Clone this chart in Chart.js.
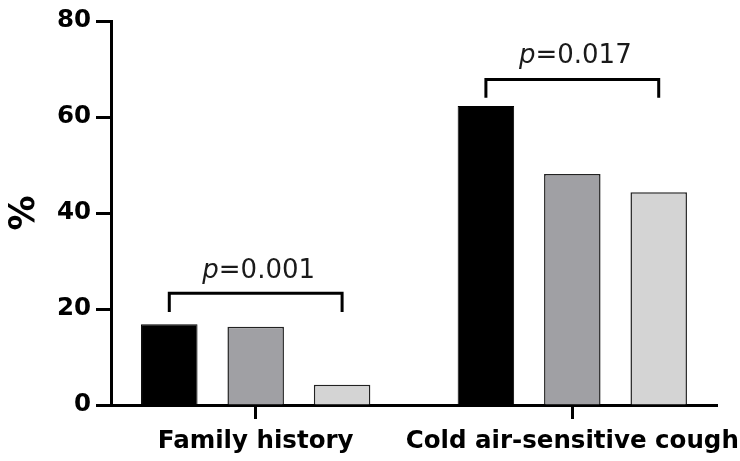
<!DOCTYPE html>
<html><head><meta charset="utf-8">
<script src="https://cdn.jsdelivr.net/npm/chart.js@4"></script>
<style>html,body{margin:0;padding:0;background:#fff}canvas{display:block}</style>
</head><body>
<canvas id="c" width="740" height="461"></canvas>
<script>
const categories = ['Family history', 'Cold air-sensitive cough'];
const groupBlack = [16.8, 62.3];
const groupGray = [16.3, 48.1];
const groupLight = [4.2, 44.3];
const yTicks = [0, 20, 40, 60, 80];
const pValues = ['0.001', '0.017'];
const bracketTop = [23.3, 67.8];
const bracketTip = [19.4, 64.0];
const pLabelY = [26.5, 71.2];

const FONT = '"DejaVu Sans", sans-serif';

const bracketPlugin = {
  id: 'brackets',
  afterDatasetsDraw(chart) {
    const ctx = chart.ctx, y = chart.scales.y;
    const m0 = chart.getDatasetMeta(0), m2 = chart.getDatasetMeta(2);
    categories.forEach((c, i) => {
      const x1 = m0.data[i].x, x2 = m2.data[i].x;
      const yt = y.getPixelForValue(bracketTop[i]), yb = y.getPixelForValue(bracketTip[i]);
      ctx.save();
      ctx.strokeStyle = '#000'; ctx.lineWidth = 3; ctx.lineCap = 'butt'; ctx.lineJoin = 'miter';
      ctx.beginPath(); ctx.moveTo(x1, yb); ctx.lineTo(x1, yt); ctx.lineTo(x2, yt); ctx.lineTo(x2, yb); ctx.stroke();
      const fi = 'italic 26px ' + FONT, fr = '26px ' + FONT;
      ctx.font = fi; const wp = ctx.measureText('p').width;
      ctx.font = fr; const wr = ctx.measureText('=' + pValues[i]).width;
      const cx = (x1 + x2) / 2 + 3, start = cx - (wp + wr) / 2, base = y.getPixelForValue(pLabelY[i]);
      ctx.fillStyle = '#1a1a1a'; ctx.textBaseline = 'alphabetic'; ctx.textAlign = 'left';
      ctx.font = fi; ctx.fillText('p', start, base);
      ctx.font = fr; ctx.fillText('=' + pValues[i], start + wp, base);
      ctx.restore();
    });
  }
};

const toPts = arr => arr.map((v, i) => ({ x: i, y: v }));

new Chart(document.getElementById('c'), {
  type: 'bar',
  data: {
    datasets: [
      { data: toPts(groupBlack), backgroundColor: '#000000', borderColor: '#000000', borderWidth: 1 },
      { data: toPts(groupGray), backgroundColor: '#a0a0a4', borderColor: '#222222', borderWidth: 1.5 },
      { data: toPts(groupLight), backgroundColor: '#d4d4d4', borderColor: '#222222', borderWidth: 1.5 }
    ]
  },
  options: {
    responsive: false,
    animation: false,
    layout: { padding: { top: 21, right: 23, left: 0, bottom: 0 } },
    plugins: { legend: { display: false }, tooltip: { enabled: false } },
    datasets: { bar: { categoryPercentage: 0.8187, barPercentage: 0.654, grouped: true } },
    scales: {
      x: {
        type: 'linear', min: -0.457, max: 1.457, offset: false,
        afterBuildTicks: s => { s.ticks = categories.map((c, i) => ({ value: i })); },
        afterFit: s => { s.height = 56; s.paddingLeft = 0; s.paddingRight = 0; },
        ticks: { callback: v => categories[v], autoSkip: false, maxRotation: 0, minRotation: 0, padding: 8,
          color: '#000', font: { family: FONT, size: 24.5, weight: 'bold' } },
        grid: { offset: false, drawOnChartArea: false, drawTicks: true, tickLength: 14, tickWidth: 3, tickColor: '#000' },
        border: { display: true, color: '#000', width: 3 }
      },
      y: {
        min: 0, max: 80,
        afterBuildTicks: s => { s.ticks = yTicks.map(v => ({ value: v })); },
        afterFit: s => { s.width = 111; },
        ticks: { padding: 5, color: '#000', font: { family: FONT, size: 24.5, weight: 'bold' } },
        grid: { drawOnChartArea: false, drawTicks: true, tickLength: 15, tickWidth: 3, tickColor: '#000' },
        border: { display: true, color: '#000', width: 3 },
        title: { display: true, text: '%', color: '#000', font: { family: FONT, size: 35, weight: 'bold' }, padding: { top: 4, bottom: 0 } }
      }
    }
  },
  plugins: [bracketPlugin]
});
</script>
</body></html>
